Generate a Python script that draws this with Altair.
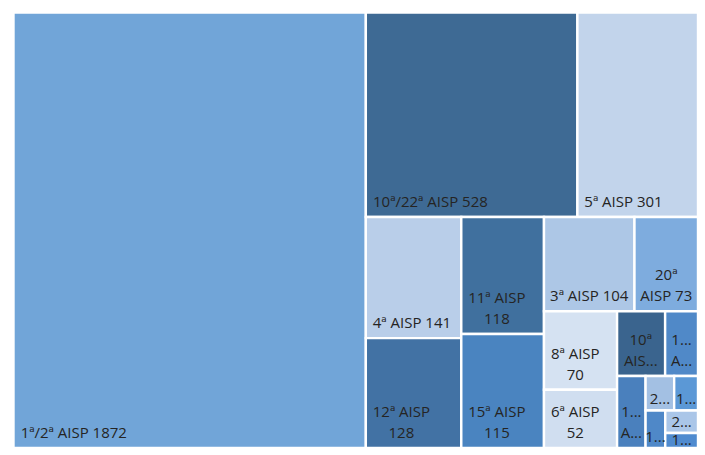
import altair as alt
import pandas as pd

# ---------------- data ----------------
NAMES = ["1ª/2ª AISP", "10ª/22ª AISP", "5ª AISP", "4ª AISP", "12ª AISP", "11ª AISP",
         "15ª AISP", "3ª AISP", "20ª AISP", "8ª AISP", "6ª AISP", "10ª AISP",
         "14ª AISP", "16ª AISP", "21ª AISP", "17ª AISP", "13ª AISP", "23ª AISP", "19ª AISP"]
VALUES = [1872, 528, 301, 141, 128, 118, 115, 104, 73, 70, 52, 38, 26, 25, 12, 10, 9, 9, 6]
COLORS = ["#71a5d8", "#3e6a94", "#c2d4eb", "#b9cee9", "#4272a4", "#40709e",
          "#4a84c0", "#adc7e6", "#7eacde", "#d5e2f2", "#d0def0", "#3a648e",
          "#5089c8", "#4a80bd", "#a3c0e3", "#5b98d6", "#4f88c8", "#aac6e8", "#4f8bcf"]
# number of cells in each successive strip of the treemap
ROW_SIZES = [1, 2, 2, 2, 2, 2, 2, 1, 2, 1, 1, 1]

# ---------------- layout parameters ----------------
WIDTH, HEIGHT = 689, 439
BOX = (5.5, 4.5, 690.0, 440.0)   # treemap frame inside plot area
GAP = 2.4
FONT = "Open Sans"
FONT_SIZE = 15
FIT_SIZE = 14.8
SIDE = 8.6
PAD = 5.5
LINE_H = 21

EM = {' ': 0.26, 'ª': 0.38, '/': 0.371, '.': 0.266,
      'A': 0.633, 'I': 0.279, 'S': 0.549, 'P': 0.603}
for d in "0123456789":
    EM[d] = 0.572


def text_w(s, size):
    return sum(EM.get(c, 0.6) for c in s) * size


def strip_layout(values, sizes, x0, y0, x1, y1):
    rects = []
    i = 0
    remaining = float(sum(values))
    for n in sizes:
        group = values[i:i + n]
        s = float(sum(group))
        dx, dy = x1 - x0, y1 - y0
        if dx < dy:
            h = dy * s / remaining
            cx = x0
            for v in group:
                w = dx * v / s
                rects.append((cx, y0, cx + w, y0 + h))
                cx += w
            y0 += h
        else:
            w = dx * s / remaining
            cy = y0
            for v in group:
                h = dy * v / s
                rects.append((x0, cy, x0 + w, cy + h))
                cy += h
            x0 += w
        remaining -= s
        i += n
    return rects


def fit(s, avail):
    if text_w(s, FIT_SIZE) <= avail:
        return s
    for k in range(len(s) - 1, 0, -1):
        t = s[:k].rstrip() + "..."
        if text_w(t, FIT_SIZE) <= avail:
            return t
    return s[0] + "..."


def wrap(words, avail):
    lines, cur = [], ""
    for w in words:
        t = (cur + " " + w) if cur else w
        if cur and text_w(t, FIT_SIZE) > avail:
            lines.append(cur)
            cur = w
        else:
            cur = t
    lines.append(cur)
    return lines


rects = strip_layout(VALUES, ROW_SIZES, *BOX)

cells = pd.DataFrame({
    "name": NAMES, "value": VALUES, "color": COLORS,
    "x0": [r[0] for r in rects], "y0": [r[1] for r in rects],
    "x1": [r[2] for r in rects], "y1": [r[3] for r in rects],
})

label_rows = []
for name, val, (x0, y0, x1, y1) in zip(NAMES, VALUES, rects):
    vx0, vy0, vx1, vy1 = x0 + GAP / 2, y0 + GAP / 2, x1 - GAP / 2, y1 - GAP / 2
    vw, vh = vx1 - vx0, vy1 - vy0
    avail = vw - SIDE
    lines = wrap(f"{name} {val}".split(" "), avail)
    max_lines = 2 if vh >= 44 else 1
    if len(lines) > max_lines:
        lines = lines[:max_lines - 1] + [" ".join(lines[max_lines - 1:])]
    lines = [fit(l, avail) for l in lines]
    bw = max(text_w(l, FONT_SIZE) for l in lines)
    cx = min(vx0 + PAD + bw / 2, (vx0 + vx1) / 2)
    off = 9 if vh >= 50 else 5
    base = max(vy1 - off, vy0 + 10.5)
    n = len(lines)
    for k, l in enumerate(lines):
        label_rows.append({"lx": cx, "ly": base - (n - 1 - k) * LINE_H, "label": l, "name": name})
labels = pd.DataFrame(label_rows)

xs = alt.Scale(domain=[0, WIDTH], nice=False, zero=False)
ys = alt.Scale(domain=[0, HEIGHT], nice=False, zero=False, reverse=True)

rect_layer = alt.Chart(cells).mark_rect(stroke="white", strokeWidth=GAP).encode(
    x=alt.X("x0:Q", scale=xs, axis=None),
    x2="x1:Q",
    y=alt.Y("y0:Q", scale=ys, axis=None),
    y2="y1:Q",
    color=alt.Color("color:N", scale=None, legend=None),
    tooltip=["name:N", "value:Q"],
)

text_layer = alt.Chart(labels).mark_text(
    font=FONT, fontSize=FONT_SIZE, color="#252423", align="center", baseline="alphabetic"
).encode(
    x=alt.X("lx:Q", scale=xs, axis=None),
    y=alt.Y("ly:Q", scale=ys, axis=None),
    text="label:N",
)

chart = alt.layer(rect_layer, text_layer).properties(
    width=WIDTH, height=HEIGHT, padding=0, autosize=alt.AutoSizeParams(type="none"),
    background="white",
).configure_view(stroke=None)

chart.save("out.html", embed_options={"renderer": "svg", "actions": False})
